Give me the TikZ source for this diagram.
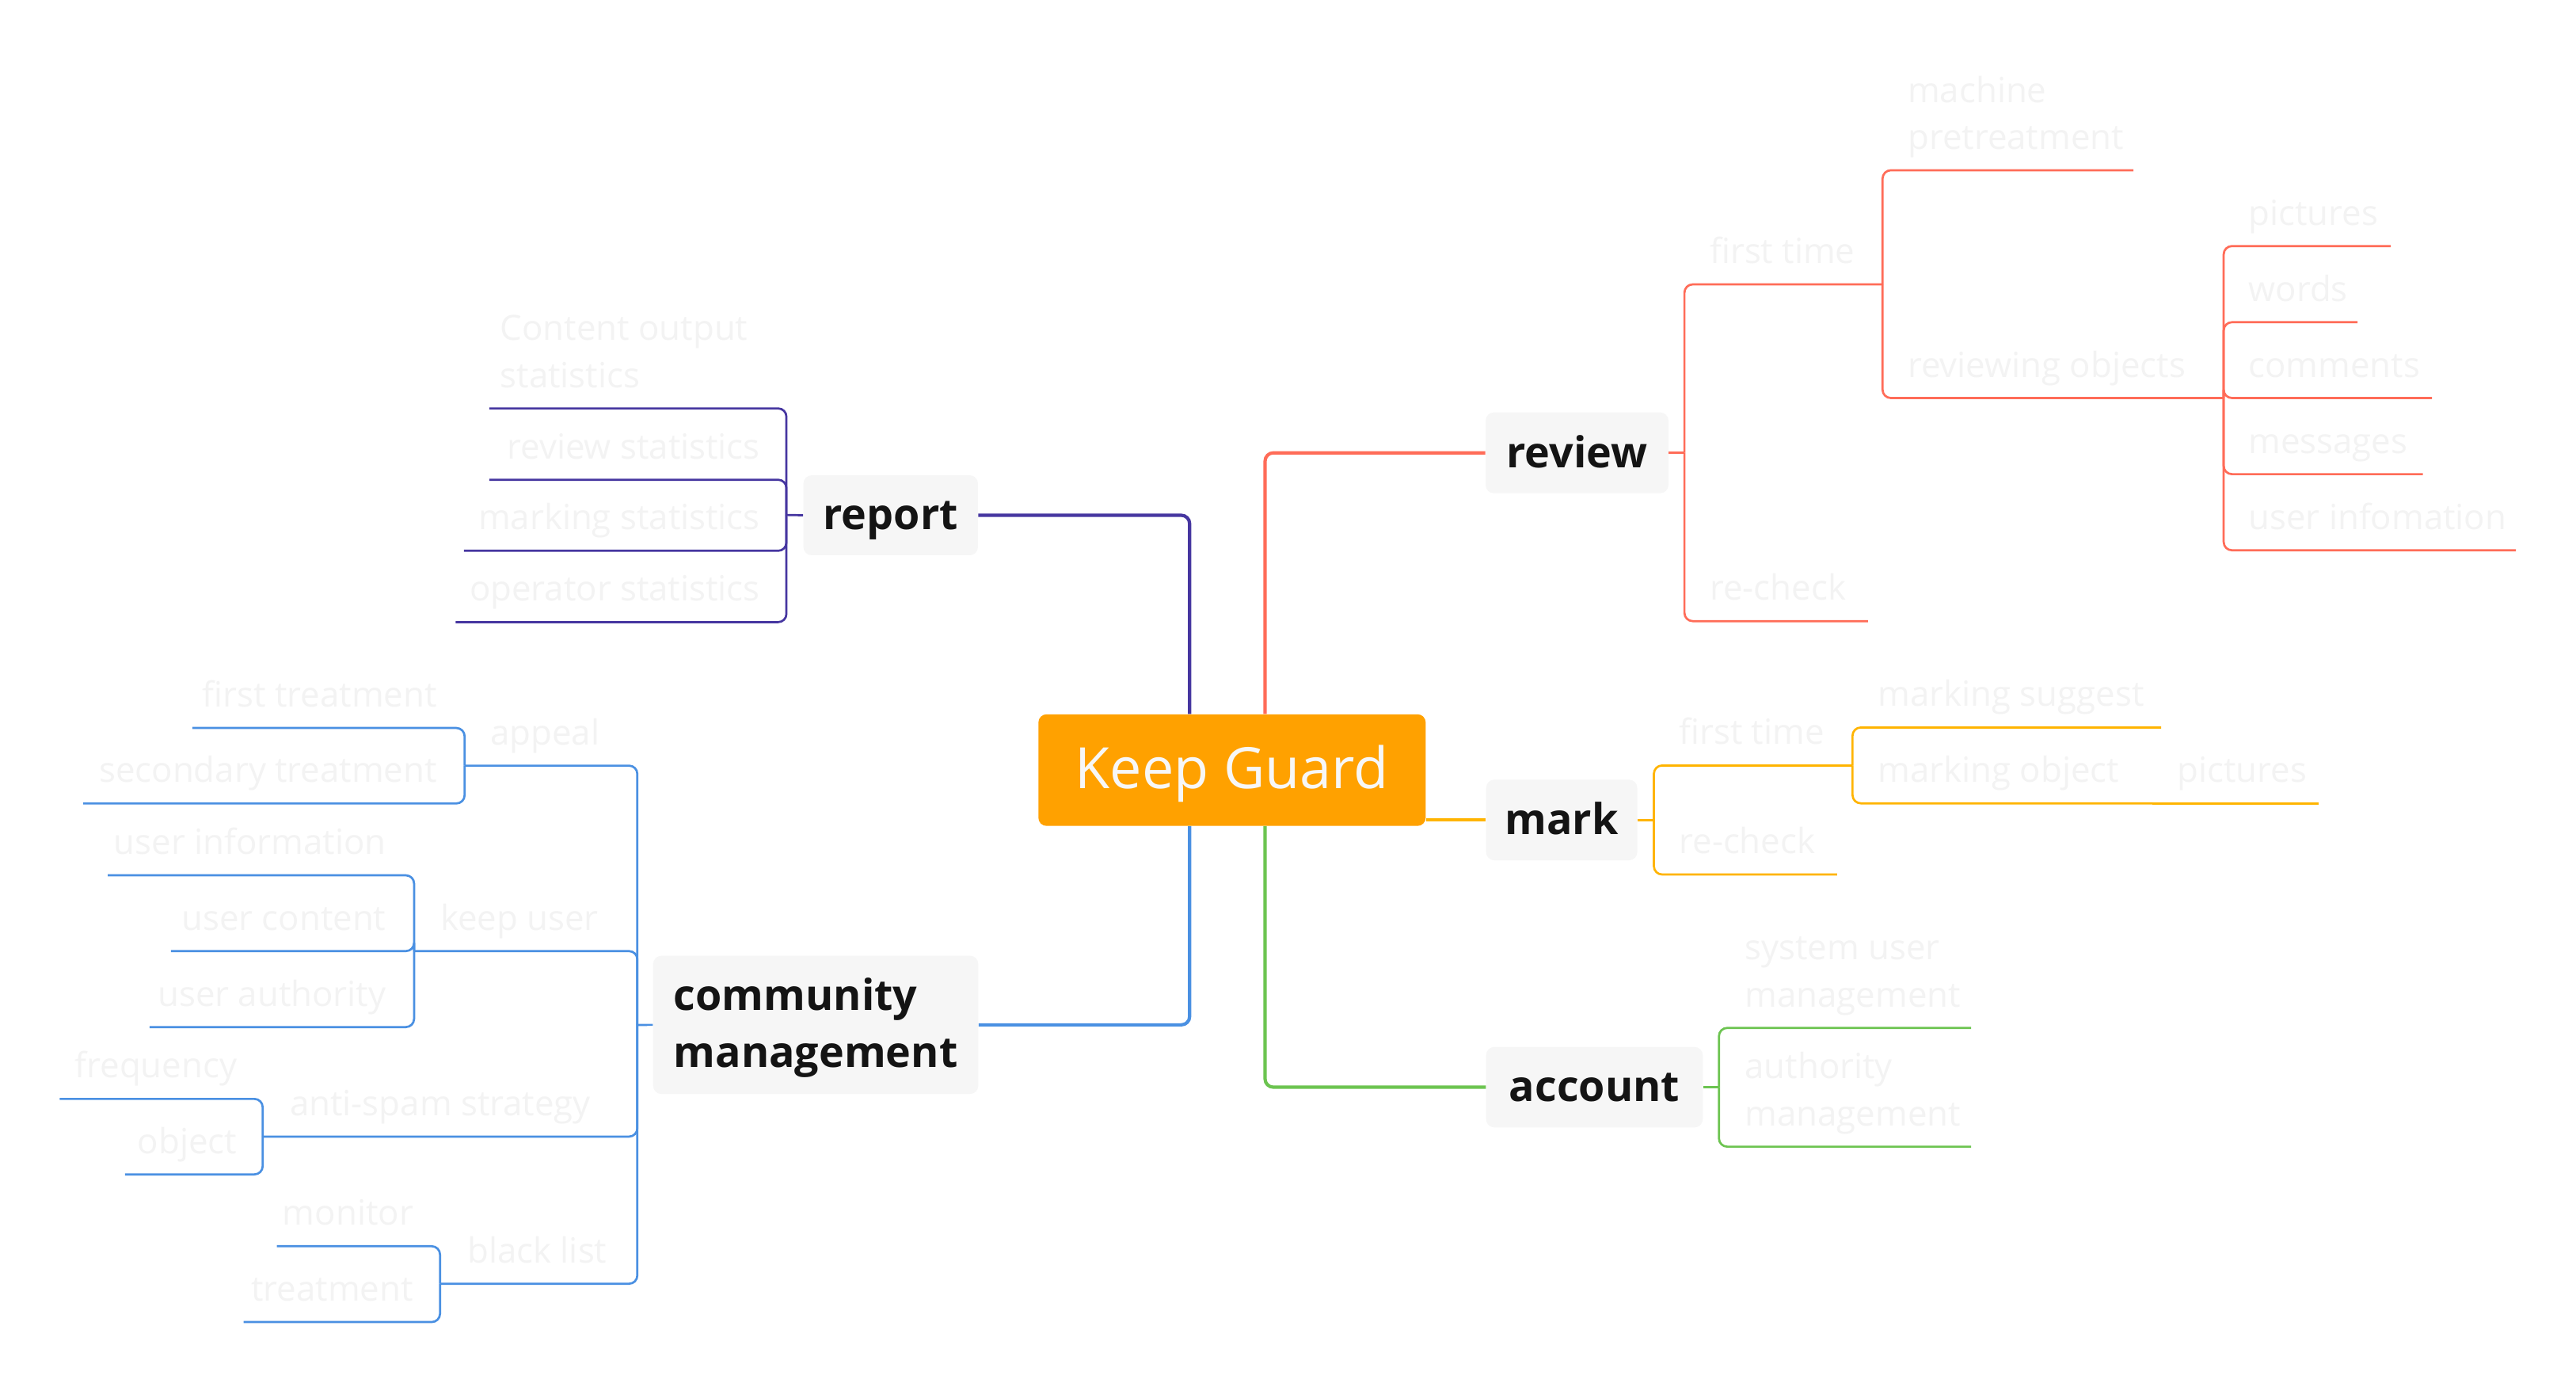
\documentclass[tikz,border=0pt]{standalone}
\usepackage{fontspec}
\setmainfont{Open Sans}
\definecolor{cPur}{RGB}{70,54,160}
\definecolor{cBlu}{RGB}{74,144,226}
\definecolor{cRed}{RGB}{255,108,88}
\definecolor{cYel}{RGB}{255,180,0}
\definecolor{cGrn}{RGB}{108,196,80}
\definecolor{cOra}{RGB}{255,161,0}
\definecolor{boxbg}{RGB}{246,246,246}
\definecolor{leaftxt}{RGB}{243,243,243}
\definecolor{mtxt}{RGB}{20,20,20}
\definecolor{kgtxt}{RGB}{247,247,247}
\begin{document}
\begin{tikzpicture}[x=1pt,y=-1pt,
  mainln/.style={line width=2pt, rounded corners=5pt},
  subln/.style={line width=1.3pt, rounded corners=5pt},
  topic/.style={fill=boxbg, rounded corners=5pt, inner sep=0pt, text=mtxt,
    font=\fontsize{25.8}{34.6}\selectfont\bfseries},
  oneline/.style={text height=23pt, text depth=5.4pt},
  leafR/.style={inner sep=0pt, anchor=base west, text=leaftxt,
    font=\fontsize{21}{28.5}\selectfont, align=left},
  leafL/.style={inner sep=0pt, anchor=base east, text=leaftxt,
    font=\fontsize{21}{28.5}\selectfont, align=right}]
\fill[white] (0,0) rectangle (1560.2,837.4);
\useasboundingbox (0,0) rectangle (1560.2,837.4);

% central topic
\node[fill=cOra, rounded corners=5pt, minimum width=234.6pt, minimum height=67.6pt,
  inner sep=0pt, text=kgtxt, font=\fontsize{34.5}{40}\selectfont,
  text height=26.2pt, text depth=4pt] (kg) at (746.2,466.3) {Keep Guard};

% main topics
\node[topic, oneline, minimum width=105.7pt, minimum height=48.4pt] (report) at (539.45,312) {report};
\node[topic, oneline, minimum width=110.7pt, minimum height=48.9pt] (review) at (955.15,274.2) {review};
\node[topic, oneline, minimum width=91.5pt, minimum height=48.8pt] (mark) at (945.85,496.5) {mark};
\node[topic, oneline, minimum width=131.2pt, minimum height=48.7pt] (account) at (965.7,658.3) {account};
\node[topic, align=left, minimum width=196.9pt, minimum height=83.7pt,
  text height=58pt, text depth=6.3pt] (comm) at (494.05,620.55) {community\\management};

% main branches
\coordinate (colL) at (720.5,0);
\coordinate (colR) at (766.2,0);
\draw[mainln,cPur] (colL |- kg.north) |- (report.east);
\draw[mainln,cBlu] (colL |- kg.south) |- (comm.east);
\draw[mainln,cRed] (colR |- kg.north) |- (review.west);
\draw[mainln,cGrn] (colR |- kg.south) |- (account.west);
\draw[mainln,cYel] (kg.east |- mark.west) -- (mark.west);

% ---------------- review ----------------
\coordinate (rvB) at (1020.2,274.2);
\coordinate (rvFT) at (1140.2,172.2);
\coordinate (rvRC) at (1131.3,376.1);
\coordinate (rvMP) at (1292.1,103.1);
\coordinate (rvRO) at (1346.8,241);
\coordinate (rvP) at (1448,149);
\coordinate (rvW) at (1427.9,195.1);
\coordinate (rvC) at (1473,241);
\coordinate (rvM) at (1467.4,287.1);
\coordinate (rvU) at (1523.8,333.2);
\draw[subln,cRed] (review.east) -- (rvB);
\draw[subln,cRed] (rvB) |- (rvFT);
\draw[subln,cRed] (rvB) |- (rvRC);
\draw[subln,cRed] (rvFT) |- (rvMP);
\draw[subln,cRed] (rvFT) |- (rvRO);
\foreach \c in {rvP,rvW,rvC,rvM,rvU} \draw[subln,cRed] (rvRO) |- (\c);
\node[leafR] (tRvFT) at (1035.4,159.5) {first time};
\node[leafR] (tRvRC) at (1035.4,363.4) {re-check};
\node[leafR] (tRvMP) at (1155.3,90.5) {machine\\pretreatment};
\node[leafR] (tRvRO) at (1155.3,228.3) {reviewing objects};
\node[leafR] (tRvP) at (1361.7,136.3) {pictures};
\node[leafR] (tRvW) at (1361.7,182.4) {words};
\node[leafR] (tRvC) at (1361.7,228.3) {comments};
\node[leafR] (tRvM) at (1361.7,274.4) {messages};
\node[leafR] (tRvU) at (1361.7,320.5) {user infomation};

% ---------------- mark ----------------
\coordinate (mkB) at (1001.7,496.5);
\coordinate (mkFT) at (1122,463.5);
\coordinate (mkRC) at (1112.7,529.5);
\coordinate (mkMS) at (1308.9,440.5);
\coordinate (mkMO) at (1303.6,486.4);
\coordinate (mkPic) at (1404.1,486.4);
\draw[subln,cYel] (mark.east) -- (mkB);
\draw[subln,cYel] (mkB) |- (mkFT);
\draw[subln,cYel] (mkB) |- (mkRC);
\draw[subln,cYel] (mkFT) |- (mkMS);
\draw[subln,cYel] (mkFT) |- (mkMO);
\draw[subln,cYel] (mkMO) -- (mkPic);
\node[leafR] (tMkFT) at (1016.8,450.8) {first time};
\node[leafR] (tMkRC) at (1016.8,516.8) {re-check};
\node[leafR] (tMkMS) at (1137.3,427.8) {marking suggest};
\node[leafR] (tMkMO) at (1137.3,473.7) {marking object};
\node[leafR] (tMkPic) at (1318.6,473.7) {pictures};

% ---------------- account ----------------
\coordinate (acB) at (1041.1,658.3);
\coordinate (acSU) at (1193.8,622.4);
\coordinate (acAM) at (1193.8,694.3);
\draw[subln,cGrn] (account.east) -- (acB);
\draw[subln,cGrn] (acB) |- (acSU);
\draw[subln,cGrn] (acB) |- (acAM);
\node[leafR] (tAcSU) at (1056.6,609.7) {system user\\management};
\node[leafR] (tAcAM) at (1056.6,681.6) {authority\\management};

% ---------------- report ----------------
\coordinate (rpB) at (476.3,311.8);
\coordinate (rpCO) at (296.4,247.3);
\coordinate (rpRS) at (296.4,290.5);
\coordinate (rpMS) at (281,333.5);
\coordinate (rpOS) at (276,376.7);
\draw[subln,cPur] (report.west) -- (rpB);
\foreach \c in {rpCO,rpRS,rpMS,rpOS} \draw[subln,cPur] (rpB) |- (\c);
\node[leafR] (tRpCO) at (302.8,234.6) {Content output\\statistics};
\node[leafL] (tRpRS) at (460.5,277.8) {review statistics};
\node[leafL] (tRpMS) at (460.5,320.8) {marking statistics};
\node[leafL] (tRpOS) at (460.5,364) {operator statistics};

% ---------------- community management ----------------
\coordinate (cmB) at (386,620.6);
\coordinate (cmAp) at (281.4,463.6);
\coordinate (cmKU) at (250.8,575.9);
\coordinate (cmAS) at (159.1,688.2);
\coordinate (cmBL) at (266.5,777.3);
\coordinate (apFT) at (116.5,440.8);
\coordinate (apST) at (50.4,486.5);
\coordinate (kuUI) at (65.3,530);
\coordinate (kuUC) at (103.5,575.9);
\coordinate (kuUA) at (90.6,621.9);
\coordinate (asFr) at (36.1,665.4);
\coordinate (asOb) at (75.7,711.1);
\coordinate (blMo) at (167.7,754.6);
\coordinate (blTr) at (147.6,800.5);
\draw[subln,cBlu] (comm.west) -- (cmB);
\foreach \c in {cmAp,cmKU,cmAS,cmBL} \draw[subln,cBlu] (cmB) |- (\c);
\foreach \c in {apFT,apST} \draw[subln,cBlu] (cmAp) |- (\c);
\foreach \c in {kuUI,kuUC,kuUA} \draw[subln,cBlu] (cmKU) |- (\c);
\foreach \c in {asFr,asOb} \draw[subln,cBlu] (cmAS) |- (\c);
\foreach \c in {blMo,blTr} \draw[subln,cBlu] (cmBL) |- (\c);
\node[leafR] (tCmAp) at (296.8,450.9) {appeal};
\node[leafR] (tCmKU) at (266.5,563.2) {keep user};
\node[leafR] (tCmAS) at (175.4,675.5) {anti-spam strategy};
\node[leafR] (tCmBL) at (283,764.6) {black list};
\node[leafL] (tApFT) at (264.9,428.1) {first treatment};
\node[leafL] (tApST) at (264.9,473.8) {secondary treatment};
\node[leafL] (tKuUI) at (234,517.3) {user information};
\node[leafL] (tKuUC) at (234,563.2) {user content};
\node[leafL] (tKuUA) at (234,609.2) {user authority};
\node[leafL] (tAsFr) at (143.7,652.7) {frequency};
\node[leafL] (tAsOb) at (143.7,698.4) {object};
\node[leafL] (tBlMo) at (250.5,741.9) {monitor};
\node[leafL] (tBlTr) at (250.5,787.8) {treatment};
\end{tikzpicture}
\end{document}
